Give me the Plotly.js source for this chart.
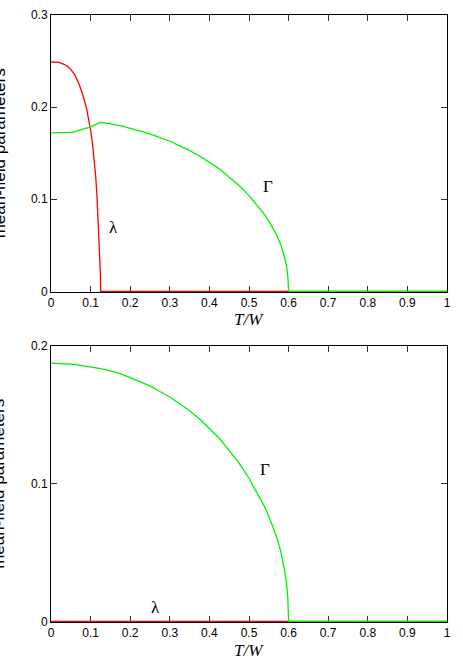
<!DOCTYPE html>
<html>
<head>
<meta charset="utf-8">
<script src="https://cdn.plot.ly/plotly-3.0.1.min.js"></script>
<style>
  html, body { margin: 0; padding: 0; background: #fff; }
  #chart { width: 463px; height: 662px; }
</style>
</head>
<body>
<div id="chart"></div>
<script>
// top panel: lambda (red) and Gamma (green) vs T/W
const top_lambda_T = [0, 0.02, 0.03, 0.04, 0.05, 0.06, 0.07, 0.08, 0.09, 0.095, 0.1, 0.105, 0.11, 0.113, 0.116, 0.119, 0.121, 0.123, 0.1245, 0.1255, 1];
const top_lambda_v = [0.249, 0.2485, 0.247, 0.245, 0.241, 0.235, 0.226, 0.214, 0.198, 0.187, 0.175, 0.160, 0.140, 0.124, 0.104, 0.080, 0.061, 0.040, 0.022, 0, 0];

const top_gamma_T = [0, 0.02, 0.04, 0.05, 0.06, 0.07, 0.08, 0.09, 0.1, 0.11, 0.118, 0.124, 0.13, 0.15, 0.175, 0.2, 0.225, 0.25, 0.275, 0.3, 0.325, 0.35, 0.375, 0.4, 0.425, 0.45, 0.475, 0.5, 0.52, 0.54, 0.56, 0.57, 0.58, 0.585, 0.59, 0.595, 0.598, 0.6, 1];
const top_gamma_v = [0.172, 0.172, 0.1722, 0.1727, 0.1735, 0.1745, 0.1758, 0.1772, 0.1785, 0.1805, 0.1822, 0.1835, 0.1833, 0.182, 0.180, 0.177, 0.174, 0.171, 0.167, 0.163, 0.158, 0.153, 0.147, 0.140, 0.133, 0.124, 0.115, 0.104, 0.094, 0.083, 0.069, 0.061, 0.051, 0.045, 0.037, 0.027, 0.017, 0, 0];

// bottom panel: lambda stays zero
const bot_lambda_T = [0, 1];
const bot_lambda_v = [0, 0];

const bot_gamma_T = [0, 0.025, 0.05, 0.075, 0.1, 0.125, 0.15, 0.175, 0.2, 0.225, 0.25, 0.275, 0.3, 0.325, 0.35, 0.375, 0.4, 0.425, 0.45, 0.475, 0.5, 0.52, 0.54, 0.56, 0.57, 0.58, 0.585, 0.59, 0.595, 0.598, 0.6, 1];
const bot_gamma_v = [0.1875, 0.1873, 0.1868, 0.186, 0.185, 0.1835, 0.182, 0.180, 0.177, 0.174, 0.171, 0.167, 0.163, 0.158, 0.153, 0.147, 0.140, 0.133, 0.124, 0.115, 0.104, 0.094, 0.083, 0.069, 0.061, 0.051, 0.045, 0.037, 0.027, 0.017, 0, 0];

const x_ticks = [0, 0.1, 0.2, 0.3, 0.4, 0.5, 0.6, 0.7, 0.8, 0.9, 1];
const x_labels = ["0", "0.1", "0.2", "0.3", "0.4", "0.5", "0.6", "0.7", "0.8", "0.9", "1"];
const top_y_ticks = [0, 0.1, 0.2, 0.3];
const bot_y_ticks = [0, 0.1, 0.2];

const RED = "#ff0000";
const GREEN = "#00f000";

let traces = [
    {x: bot_lambda_T, y: bot_lambda_v, xaxis: "x2", yaxis: "y2", mode: "lines", line: {color: RED, width: 1.3}},
    {x: bot_gamma_T, y: bot_gamma_v, xaxis: "x2", yaxis: "y2", mode: "lines", line: {color: GREEN, width: 1.3}},
    {x: top_lambda_T, y: top_lambda_v, xaxis: "x", yaxis: "y", mode: "lines", line: {color: RED, width: 1.3}},
    {x: top_gamma_T, y: top_gamma_v, xaxis: "x", yaxis: "y", mode: "lines", line: {color: GREEN, width: 1.3}},
];

const tick_font = {family: "Liberation Sans, Arial, sans-serif", size: 12, color: "#000"};

function x_axis(anchor){
    return {
        anchor: anchor, range: [0, 1], tickvals: x_ticks, ticktext: x_labels,
        ticks: "inside", ticklen: 6, tickcolor: "#333", mirror: "ticks",
        showline: true, linecolor: "#000", linewidth: 1, layer: "below traces",
        showgrid: false, zeroline: false, tickfont: tick_font,
    };
}

function y_axis(anchor, domain, range, ticks){
    return {
        anchor: anchor, domain: domain, range: range, tickvals: ticks,
        ticktext: ticks.map(String),
        ticks: "inside", ticklen: 6, tickcolor: "#333", mirror: "ticks",
        showline: true, linecolor: "#000", linewidth: 1, layer: "below traces",
        showgrid: false, zeroline: false, tickfont: tick_font,
    };
}

const serif = {family: "Liberation Serif, Times New Roman, serif", size: 17, color: "#000"};
const ylab_font = {family: "Liberation Sans, Arial, sans-serif", size: 17, color: "#000"};

let layout = {
    width: 463, height: 662,
    margin: {l: 51, r: 16, t: 15, b: 40, pad: 0},
    showlegend: false,
    paper_bgcolor: "#fff", plot_bgcolor: "#fff",
    xaxis: x_axis("y"),
    yaxis: y_axis("x", [0.5437, 1], [-0.0006, 0.3], top_y_ticks),
    xaxis2: x_axis("y2"),
    yaxis2: y_axis("x2", [0, 0.4547], [-0.0004, 0.2], bot_y_ticks),
    annotations: [
        {xref: "x", yref: "y", x: 0.157, y: 0.069, text: "λ", showarrow: false, font: serif},
        {xref: "x", yref: "y", x: 0.548, y: 0.114, text: "Γ", showarrow: false, font: serif},
        {xref: "x2", yref: "y2", x: 0.263, y: 0.010, text: "λ", showarrow: false, font: serif},
        {xref: "x2", yref: "y2", x: 0.54, y: 0.110, text: "Γ", showarrow: false, font: serif},
        {xref: "x", yref: "paper", x: 0.5, y: 0.5437, yshift: -28, text: "<i>T/W</i>", showarrow: false, font: serif, yanchor: "middle"},
        {xref: "x2", yref: "paper", x: 0.5, y: 0, yshift: -28, text: "<i>T/W</i>", showarrow: false, font: serif, yanchor: "middle"},
        {xref: "paper", yref: "y", x: -0.131, y: 0.15, text: "mean-field parameters", textangle: -90, showarrow: false, font: ylab_font, xanchor: "center", yanchor: "middle"},
        {xref: "paper", yref: "y2", x: -0.131, y: 0.1, text: "mean-field parameters", textangle: -90, showarrow: false, font: ylab_font, xanchor: "center", yanchor: "middle"},
    ],
};

Plotly.newPlot("chart", traces, layout, {displayModeBar: false, staticPlot: true});
</script>
</body>
</html>
